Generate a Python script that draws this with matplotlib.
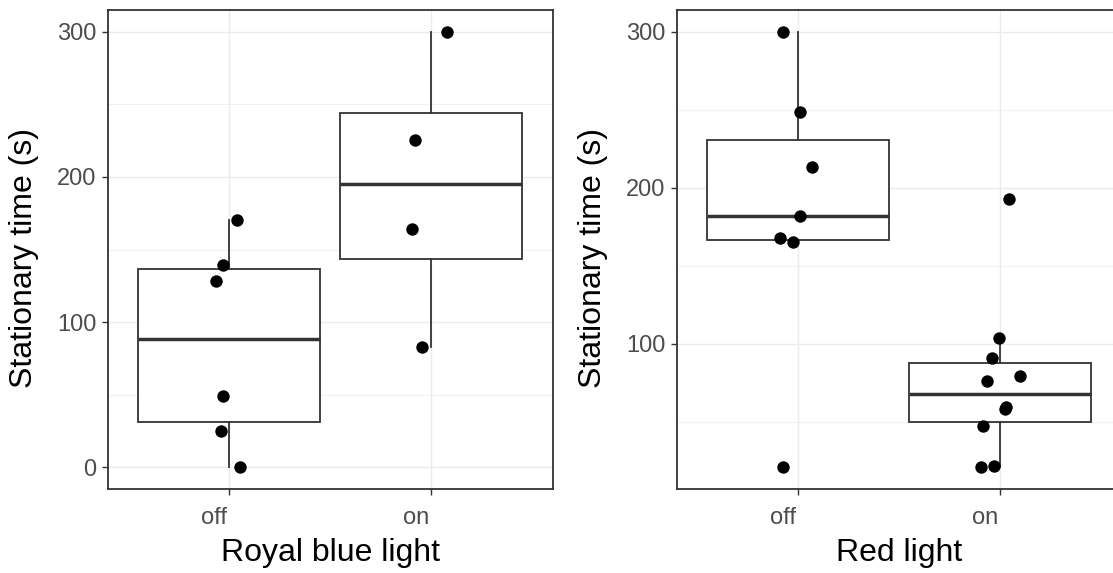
import matplotlib
matplotlib.use("Agg")
import matplotlib.pyplot as plt
import numpy as np
from matplotlib.transforms import ScaledTranslation

plt.rcParams['font.family'] = ['Liberation Sans', 'DejaVu Sans']

categories = ["off", "on"]

# Royal blue light panel
blue_off = [170, 139, 128, 49, 25, 0]
blue_on = [300, 225.6, 164, 83]
blue_off_jitter = [0.038, -0.031, -0.066, -0.031, -0.040, 0.054]
blue_on_jitter = [0.078, -0.079, -0.095, -0.046]

# Red light panel
red_off = [300, 248.4, 213.1, 182, 168.1, 165.6, 21.1]
red_on = [193, 103.9, 90.7, 79.5, 76.3, 59.5, 58, 47.4, 21.1, 22]
red_off_jitter = [-0.074, 0.008, 0.069, 0.010, -0.091, -0.025, -0.074]
red_on_jitter = [0.043, -0.009, -0.042, 0.095, -0.067, 0.027, 0.025, -0.085, -0.096, -0.031]

ylabel = "Stationary time (s)"
xlabels = ["Royal blue light", "Red light"]
blue_yticks = [0, 100, 200, 300]
red_yticks = [100, 200, 300]

W, H = 1113, 573
fig = plt.figure(figsize=(W / 100, H / 100), dpi=100)
fig.patch.set_facecolor("white")

frame_col = "#333333"
grid_col = "#EBEBEB"
tick_col = "#4D4D4D"

ax_w = 445
axes_px = [(107.7, ax_w), (676.7, ax_w)]
top_px, bot_px = 10, 489


def make_axes(left):
    return fig.add_axes([left / W, (H - bot_px) / H, ax_w / W, (bot_px - top_px) / H])


def draw_panel(ax, groups, jitters, yticks, minor, ylim, xlabel):
    positions = [1, 2]
    ax.boxplot(groups, positions=positions, widths=0.9, whis=1.5,
               showfliers=False, patch_artist=True, manage_ticks=False,
               boxprops=dict(facecolor="white", edgecolor=frame_col, linewidth=1.3),
               whiskerprops=dict(color=frame_col, linewidth=1.3),
               capprops=dict(linewidth=0),
               medianprops=dict(color=frame_col, linewidth=2.5),
               zorder=2)
    for pos, vals, jit in zip(positions, groups, jitters):
        xs = pos + np.asarray(jit)
        ax.scatter(xs, vals, s=80, color="black", zorder=3, linewidths=0)
    ax.set_xlim(0.4, 2.6)
    ax.set_ylim(*ylim)
    ax.set_axisbelow(True)
    ax.set_yticks(yticks)
    ax.set_yticks(minor, minor=True)
    ax.set_xticks(positions)
    ax.set_xticklabels(categories)
    ax.grid(True, which="major", color=grid_col, linewidth=1.0)
    ax.grid(True, which="minor", axis="y", color=grid_col, linewidth=0.5)
    ax.tick_params(which="minor", length=0)
    for sp in ax.spines.values():
        sp.set_color(frame_col)
        sp.set_linewidth(1.3)
    ax.tick_params(axis="both", which="major", color=frame_col, length=4.5,
                   width=1.0, labelcolor=tick_col, labelsize=17)
    ax.tick_params(axis="x", pad=8.5)
    ax.tick_params(axis="y", pad=3.5)
    off = ScaledTranslation(-15 / 100, 0, fig.dpi_scale_trans)
    for lab in ax.get_xticklabels():
        lab.set_transform(lab.get_transform() + off)
    ax.set_ylabel(ylabel, fontsize=23, va="center")
    ax.yaxis.set_label_coords(-0.189, 0.482)
    ax.set_xlabel(xlabel, fontsize=23, va="baseline")
    ax.xaxis.set_label_coords(0.5, -0.150)


ax1 = make_axes(axes_px[0][0])
draw_panel(ax1, [blue_off, blue_on], [blue_off_jitter, blue_on_jitter],
           blue_yticks, [50, 150, 250], (-15, 315), xlabels[0])

ax2 = make_axes(axes_px[1][0])
draw_panel(ax2, [red_off, red_on], [red_off_jitter, red_on_jitter],
           red_yticks, [50, 150, 250], (7.05, 313.95), xlabels[1])

fig.savefig("out.png", dpi=100, facecolor="white")
